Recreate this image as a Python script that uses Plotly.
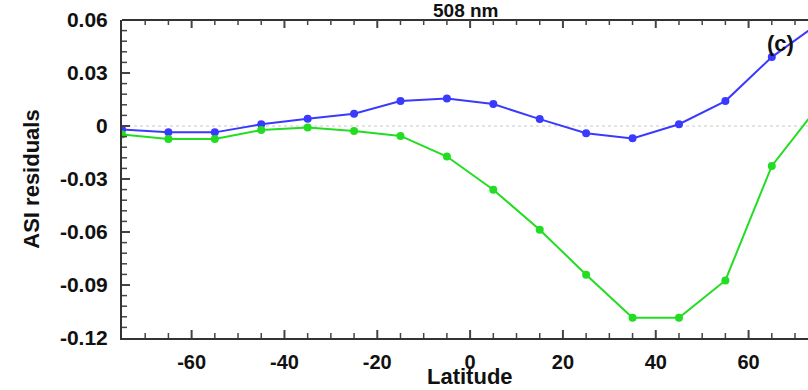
import plotly.graph_objects as go

latitude = [-75, -65, -55, -45, -35, -25, -15, -5, 5, 15, 25, 35, 45, 55, 65, 75]
blue_residuals = [-0.002, -0.0036, -0.0036, 0.001, 0.0041, 0.0069, 0.0141, 0.0155, 0.0124, 0.0039,
                  -0.0041, -0.007, 0.001, 0.0141, 0.039, 0.058]
green_residuals = [-0.0048, -0.0073, -0.0073, -0.0023, -0.0008, -0.0028, -0.0056, -0.0173, -0.0361,
                   -0.0587, -0.0842, -0.1085, -0.1085, -0.0874, -0.0226, 0.011]

y_tickvals = [0.06, 0.03, 0, -0.03, -0.06, -0.09, -0.12]
y_ticktext = ["0.06", "0.03", "0", "-0.03", "-0.06", "-0.09", "-0.12"]
x_tickvals = [-60, -40, -20, 0, 20, 40, 60]
x_ticktext = ["-60", "-40", "-20", "0", "20", "40", "60"]

# minor tick positions (every 5 deg in x, every 0.006 in y)
x_minor = [v for v in range(-70, 75, 5) if v not in x_tickvals]
y_minor = [round(-0.12 + 0.006 * i, 3) for i in range(1, 30)]
y_minor = [v for v in y_minor if all(abs(v - t) > 1e-9 for t in y_tickvals)]

FONT = "Liberation Sans, Arial, sans-serif"
AX = "#333333"
TK = "#444444"
W, H = 808, 390
ML, MR, MT, MB = 122, 0, 20, 52
PW, PH = W - ML - MR, H - MT - MB

fig = go.Figure()
fig.add_trace(go.Scatter(x=latitude, y=blue_residuals, mode="lines+markers",
                         line=dict(color="#3a3aff", width=2),
                         marker=dict(color="#3a3aff", size=8), showlegend=False))
fig.add_trace(go.Scatter(x=latitude, y=green_residuals, mode="lines+markers",
                         line=dict(color="#22dd22", width=2),
                         marker=dict(color="#22dd22", size=8), showlegend=False))

# zero reference line
fig.add_shape(type="line", xref="paper", x0=0, x1=1, yref="y", y0=0, y1=0,
              line=dict(color="#c8c8c8", width=1, dash="dot"), layer="below")
# top frame line
fig.add_shape(type="line", xref="paper", x0=0, x1=1, yref="paper", y0=1, y1=1,
              line=dict(color=AX, width=2))

# inside tick marks (bottom + top for x, left for y)
xr = [-75, 72.8]
for vals, plen, wid in ((x_tickvals, 8, 2), (x_minor, 5, 1.5)):
    for v in vals:
        if xr[0] < v < xr[1]:
            fig.add_shape(type="line", xref="x", x0=v, x1=v, yref="paper", y0=0, y1=plen / PH,
                          line=dict(color=TK, width=wid))
            fig.add_shape(type="line", xref="x", x0=v, x1=v, yref="paper", y0=1, y1=1 - plen / PH,
                          line=dict(color=TK, width=wid))
for vals, plen, wid in ((y_tickvals[1:-1], 8, 2), (y_minor, 5, 1.5)):
    for v in vals:
        fig.add_shape(type="line", xref="paper", x0=0, x1=plen / PW, yref="y", y0=v, y1=v,
                      line=dict(color=TK, width=wid))

fig.update_layout(
    width=W, height=H,
    margin=dict(l=ML, r=MR, t=MT, b=MB),
    paper_bgcolor="white", plot_bgcolor="white",
    font=dict(family=FONT, color="#111111"),
    xaxis=dict(range=xr, tickmode="array", tickvals=x_tickvals, ticktext=x_ticktext,
               ticks="", showline=True, linecolor=AX, linewidth=2, showgrid=False, zeroline=False,
               tickfont=dict(size=20, family=FONT, weight="bold"), ticklabelstandoff=5,
               automargin=False),
    yaxis=dict(range=[-0.12, 0.06], tickmode="array", tickvals=y_tickvals, ticktext=y_ticktext,
               ticks="", showline=True, linecolor=AX, linewidth=2, showgrid=False, zeroline=False,
               tickfont=dict(size=21, family=FONT, weight="bold"), ticklabelstandoff=8,
               title=dict(text="<b>ASI residuals</b>", font=dict(size=22, family=FONT), standoff=14),
               automargin=False),
    annotations=[
        dict(text="<b>508 nm</b>", xref="paper", yref="paper", x=(465 - ML) / PW, y=1 + (MT - 10) / PH,
             xanchor="center", yanchor="middle", showarrow=False, font=dict(size=19, family=FONT)),
        dict(text="<b>(c)</b>", xref="paper", yref="paper", x=(780 - ML) / PW, y=1 - (43 - MT) / PH,
             xanchor="center", yanchor="middle", showarrow=False, font=dict(size=22, family=FONT)),
        dict(text="<b>Latitude</b>", xref="paper", yref="paper", x=(470 - ML) / PW,
             y=-(376 - (H - MB)) / PH, xanchor="center", yanchor="middle", showarrow=False,
             font=dict(size=22, family=FONT)),
    ],
)

fig.write_html("out.html")
